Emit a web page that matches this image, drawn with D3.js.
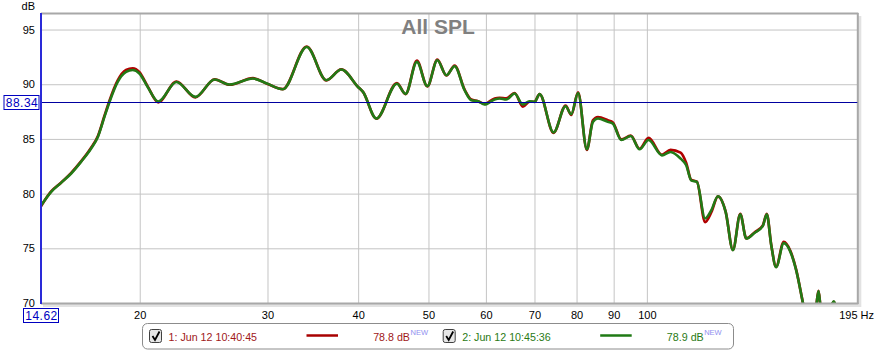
<!DOCTYPE html>
<html><head><meta charset="utf-8">
<script src="https://cdn.jsdelivr.net/npm/d3@7/dist/d3.min.js"></script>
<style>
html,body{margin:0;padding:0;background:#fff;}
svg{display:block;font-family:"Liberation Sans",Arial,sans-serif;}
</style></head>
<body>
<svg id="c" width="877" height="352"></svg>
<script>
// ---- data ----
const freqs = [14.62,15.1,15.58,16.09,16.6,17.14,17.51,17.88,18.17,18.65,19.15,19.56,19.98,20.51,21.21,22.47,23.86,25.37,26.6,28.65,29.95,31.5,33.98,36.16,37.92,39.99,40.62,42.38,45.24,46.5,48.2,49.82,51.43,52.92,54.33,56.08,57.28,58.5,59.75,61.68,62.66,64.0,65.72,67.47,68.92,70.02,71.14,74.37,77.26,78.67,80.39,82.66,84.26,85.61,88.35,89.77,92.2,95.02,97.71,100.54,104.9,107.8,111.3,113.3,115.1,117.2,120.3,122.7,125.3,128.4,131.4,134.5,137.1,140.7,144.5,146.3,148.4,150.7,154.4,157.6,160.6,164.0,166.5,169.7,171.2,172.4,173.5,176.3,178.5,181.0,183.1,190.2,195];
const green = [78.9,80.16,80.98,81.84,82.9,84.12,85.18,87.01,88.38,90.21,91.12,91.3,90.98,89.75,88.42,90.21,88.84,90.43,89.97,90.52,90.06,89.54,93.4,90.37,91.34,89.75,89.3,86.86,90.04,89.12,92.04,89.82,92.19,90.82,91.65,89.45,88.54,88.45,88.14,88.6,88.69,88.6,89.15,88.14,88.45,88.38,89.1,85.6,87.99,87.26,89.2,84.05,86.56,86.86,86.56,86.4,84.9,85.27,84.05,84.9,83.5,83.81,83.2,82.6,81.22,81.07,77.72,78.48,79.76,78.33,74.83,78.11,75.89,76.4,77.05,78.11,75.28,73.27,75.47,74.72,73.0,70.1,68.0,67.8,69.7,71.1,69.7,68.3,69.3,70.15,69.2,67.0,66.0];
const red = [78.85,80.2,81.0,81.9,82.95,84.2,85.25,87.1,88.5,90.35,91.3,91.45,91.1,89.8,88.35,90.25,88.8,90.45,89.95,90.55,90.05,89.55,93.45,90.35,91.35,89.75,89.3,86.85,90.1,89.1,92.15,89.8,92.25,90.8,91.7,89.5,88.6,88.45,88.2,88.7,88.75,88.7,89.2,87.95,88.4,88.4,89.1,85.55,88.05,87.2,89.25,84.0,86.7,87.0,86.7,86.5,84.95,85.3,84.1,85.1,83.55,84.0,83.75,82.8,81.25,81.1,77.4,78.3,79.75,78.35,74.85,78.15,75.9,76.45,77.1,78.15,75.3,73.3,75.6,74.8,73.05,70.1,68.0,67.8,69.7,71.1,69.7,68.3,69.3,70.1,69.2,67.0,66.0];
const xTicks = [20,30,40,50,60,70,80,90,100];
const yTicks = [70,75,80,85,90,95];
const title = "All SPL";
const cursorFreq = 14.62, cursorDb = 88.34;
const legendItems = [
  {label:"1: Jun 12 10:40:45", value:"78.8 dB", color:"#a80000", text:"#a01818"},
  {label:"2: Jun 12 10:45:36", value:"78.9 dB", color:"#1f7a14", text:"#2a7a14"}
];

// ---- layout ----
const L=41, R=857.3, T=14, B=303;
const svg = d3.select("#c");
const x = d3.scaleLog().domain([14.62,195]).range([L,R]);
const y = d3.scaleLinear().domain([70,96.42]).range([B,T]);

svg.append("rect").attr("width",877).attr("height",352).attr("fill","#fff");

// shadow
svg.append("rect").attr("x",L+2).attr("y",T+2).attr("width",R-L+2).attr("height",B-T+2).attr("fill","#e2e2e2");
svg.append("rect").attr("x",L).attr("y",T).attr("width",R-L).attr("height",B-T).attr("fill","#fff");

// grid via axes
const gx = svg.append("g").attr("transform",`translate(0,${B})`)
  .call(d3.axisBottom(x).tickValues(xTicks).tickFormat(d3.format("d")).tickSizeInner(-(B-T)).tickSizeOuter(0).tickPadding(8));
gx.select(".domain").remove();
gx.selectAll("line").attr("stroke","#c4c4c4").attr("stroke-width",1);
gx.selectAll("text").attr("font-size",11).attr("fill","#000").attr("font-family","Liberation Sans, Arial, sans-serif");

const gy = svg.append("g").attr("transform",`translate(${L},0)`)
  .call(d3.axisLeft(y).tickValues(yTicks).tickFormat(d3.format("d")).tickSizeInner(-(R-L)).tickSizeOuter(0).tickPadding(6));
gy.select(".domain").remove();
gy.selectAll("line").attr("stroke","#c4c4c4").attr("stroke-width",1);
gy.selectAll("text").attr("font-size",11).attr("fill","#000").attr("font-family","Liberation Sans, Arial, sans-serif");

// title
svg.append("text").attr("x",438).attr("y",34).attr("text-anchor","middle")
  .attr("font-size",21).attr("font-weight","bold").attr("fill","#808080").text(title);

// curves
svg.append("clipPath").attr("id","pc").append("rect").attr("x",L).attr("y",T).attr("width",R-L).attr("height",B-T);
const line = vals => d3.line().x((d,i)=>x(freqs[i])).y(d=>y(d)).curve(d3.curveMonotoneX)(vals);
const cg = svg.append("g").attr("clip-path","url(#pc)");
cg.append("path").attr("d",line(red)).attr("fill","none").attr("stroke","#b00000").attr("stroke-width",2.7).attr("stroke-linejoin","round");
cg.append("path").attr("d",line(green)).attr("fill","none").attr("stroke","#227a16").attr("stroke-width",2.6).attr("stroke-linejoin","round");

// frame
svg.append("line").attr("x1",L).attr("x2",R+1).attr("y1",T-0.5).attr("y2",T-0.5).attr("stroke","#a8a8a8").attr("stroke-width",2);
svg.append("line").attr("x1",R+0.5).attr("x2",R+0.5).attr("y1",T-1).attr("y2",B+1).attr("stroke","#a8a8a8").attr("stroke-width",2);
svg.append("line").attr("x1",L).attr("x2",R+1).attr("y1",B+0.5).attr("y2",B+0.5).attr("stroke","#a8a8a8").attr("stroke-width",2);

// cursor lines
svg.append("line").attr("x1",L).attr("x2",R).attr("y1",Math.round(y(cursorDb))+0.5).attr("y2",Math.round(y(cursorDb))+0.5).attr("stroke","#0000a0").attr("stroke-width",1);
svg.append("line").attr("x1",x(cursorFreq)).attr("x2",x(cursorFreq)).attr("y1",T-1).attr("y2",B+1).attr("stroke","#2a2ad8").attr("stroke-width",2);

// "dB" unit
svg.append("text").attr("x",35).attr("y",10).attr("text-anchor","end").attr("font-size",11).text("dB");
// "195 Hz"
svg.append("text").attr("x",874).attr("y",319).attr("text-anchor","end").attr("font-size",11).text("195 Hz");

// cursor boxes
function box(cx, cy, txt){
  svg.append("rect").attr("x",cx-17.5).attr("y",cy-7).attr("width",35).attr("height",14).attr("fill","#fff").attr("stroke","#0000c0").attr("stroke-width",1);
  svg.append("text").attr("x",cx+0.5).attr("y",cy+4.3).attr("text-anchor","middle").attr("font-size",12).attr("letter-spacing","0.5px").attr("fill","#0000c0").text(txt);
}
box(21.5, Math.round(y(cursorDb))+0.5, d3.format(".2f")(cursorDb));
box(41, 315.5, d3.format(".2f")(cursorFreq));

// legend
const lg = svg.append("g");
lg.append("rect").attr("x",142.5).attr("y",323.5).attr("width",591).attr("height",25.5).attr("rx",5).attr("fill","#fff").attr("stroke","#8c8c8c").attr("stroke-width",1);
const offs = [0, 293.7];
legendItems.forEach((it,i)=>{
  const o = offs[i];
  const g = lg.append("g").attr("transform",`translate(${o},0)`);
  g.append("rect").attr("x",149.5).attr("y",329.5).attr("width",12).attr("height",13).attr("rx",2).attr("fill","#e6e6e6").attr("stroke","#404040").attr("stroke-width",1);
  g.append("path").attr("d","M152.5,336 L155,340 L159.5,331.5").attr("fill","none").attr("stroke","#000").attr("stroke-width",1.8);
  g.append("text").attr("x",168.5).attr("y",341).attr("font-size",10.7).attr("fill",it.text).text(it.label);
  g.append("line").attr("x1",306.5).attr("x2",338).attr("y1",335.5).attr("y2",335.5).attr("stroke",it.color).attr("stroke-width",2.5);
  g.append("text").attr("x",410).attr("y",341).attr("text-anchor","end").attr("font-size",10.7).attr("fill",it.text).text(it.value);
  g.append("text").attr("x",410.5).attr("y",335).attr("font-size",7.5).attr("fill","#8f8fef").text("NEW");
});
</script>
</body></html>
